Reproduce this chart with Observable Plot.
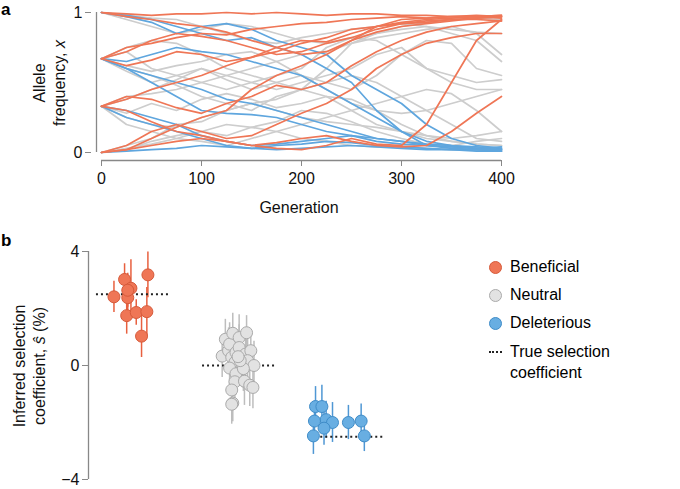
<!DOCTYPE html>
<html><head><meta charset="utf-8">
<script src="https://cdn.jsdelivr.net/npm/d3@7"></script>
<script src="https://cdn.jsdelivr.net/npm/@observablehq/plot@0.6"></script>
<style>
body{margin:0;font-family:"Liberation Sans",Arial,sans-serif;}
#wrap{position:relative;width:680px;height:489px;}
.abs{position:absolute;}
.lab{font-size:16px;color:#111;white-space:nowrap;}
.rot{transform:translate(-50%,-50%) rotate(-90deg);text-align:center;line-height:20px;}
.leg{display:flex;align-items:center;gap:8px;font-size:16px;}
.dot{width:11px;height:11px;border-radius:50%;}
</style></head><body>
<div id="wrap">
  <div id="a" class="abs" style="left:0;top:0"></div>
  <div id="b" class="abs" style="left:0;top:225px"></div>
  <div class="abs" style="left:1px;top:1px;font-weight:bold;font-size:17px;line-height:18px">a</div>
  <div class="abs" style="left:1px;top:232px;font-weight:bold;font-size:17px;line-height:18px">b</div>
  <div class="abs lab rot" style="left:50px;top:83px">Allele<br>frequency, <i>x</i></div>
  <div class="abs lab rot" style="left:30px;top:366px">Inferred selection<br>coefficient, <i>ŝ</i> (%)</div>
  <div class="abs" style="left:489px;top:253px;line-height:28px">
    <div class="leg"><span class="dot" style="background:#ef7656;border:1px solid #d65a3a"></span>Beneficial</div>
    <div class="leg"><span class="dot" style="background:#e2e2e2;border:1px solid #aaa"></span>Neutral</div>
    <div class="leg"><span class="dot" style="background:#68aee2;border:1px solid #3f8cc8"></span>Deleterious</div>
    <div class="leg" style="align-items:flex-start;line-height:21px;margin-top:4px"><span style="width:13px;border-top:2px dotted #222;margin-top:10px"></span>True selection<br>coefficient</div>
  </div>
</div>
<script>
const gens = [0,25,50,75,100,125,150,175,200,225,250,275,300,325,350,375,400];
const redLines = [
  [1,.99,.98,.99,.99,1,.99,1,.99,.98,.99,.99,.98,.98,.97,.98,.97],
  [.67,.75,.78,.82,.85,.84,.88,.9,.92,.93,.95,.96,.97,.96,.97,.97,.98],
  [.67,.62,.66,.72,.7,.65,.68,.75,.8,.79,.85,.9,.93,.95,.96,.97,.96],
  [.33,.38,.45,.5,.55,.62,.68,.72,.78,.82,.88,.9,.92,.93,.95,.95,.94],
  [.33,.4,.38,.32,.28,.35,.4,.48,.45,.5,.62,.72,.8,.86,.9,.92,.94],
  [0,.02,.1,.18,.25,.3,.45,.55,.62,.7,.8,.9,.95,.96,.97,.97,.98],
  [0,.05,.15,.2,.15,.1,.12,.2,.28,.35,.45,.6,.7,.78,.82,.85,.85],
  [.33,.3,.22,.15,.12,.08,.05,.07,.1,.12,.08,.05,.04,.05,.15,.28,.4],
  [0,.02,.05,.08,.1,.08,.05,.03,.02,.05,.1,.06,.05,.2,.5,.8,.95],
  [.67,.72,.8,.85,.83,.8,.75,.7,.72,.78,.82,.88,.92,.94,.95,.96,.97],
  [1,.97,.95,.92,.9,.86,.8,.75,.7,.72,.8,.86,.9,.92,.94,.96,.97]
];
const greyLines = [
  [.67,.72,.6,.55,.5,.45,.5,.55,.6,.75,.82,.8,.7,.6,.55,.5,.52],
  [.67,.6,.55,.48,.4,.35,.3,.4,.45,.6,.78,.85,.88,.9,.85,.8,.65],
  [.33,.38,.45,.52,.6,.55,.5,.45,.5,.55,.6,.7,.75,.6,.5,.45,.45],
  [.33,.25,.2,.18,.25,.3,.35,.3,.25,.22,.2,.18,.15,.12,.1,.12,.15],
  [0,.05,.1,.2,.22,.3,.35,.38,.45,.5,.55,.5,.4,.3,.2,.1,.08],
  [.33,.2,.15,.1,.08,.05,.1,.15,.2,.25,.3,.35,.4,.45,.42,.3,.15],
  [1,.95,.9,.85,.88,.92,.9,.85,.8,.78,.82,.85,.9,.93,.95,.96,.95],
  [.67,.75,.8,.78,.7,.6,.55,.5,.45,.4,.3,.2,.15,.1,.08,.06,.05],
  [0,.02,.08,.12,.15,.2,.18,.15,.1,.08,.05,.04,.05,.03,.02,.02,.01],
  [.33,.4,.42,.45,.5,.55,.6,.65,.7,.72,.78,.82,.85,.88,.9,.85,.7],
  [.67,.62,.58,.62,.65,.7,.72,.65,.55,.45,.35,.3,.28,.3,.35,.4,.45],
  [1,.98,.96,.95,.9,.85,.8,.78,.82,.85,.88,.9,.92,.9,.88,.86,.85],
  [0,.03,.06,.1,.15,.12,.18,.22,.3,.28,.22,.15,.1,.06,.05,.08,.1],
  [.67,.58,.5,.55,.6,.52,.45,.5,.55,.5,.45,.55,.7,.8,.78,.6,.55],
  [.33,.28,.35,.3,.38,.42,.38,.32,.35,.4,.38,.3,.2,.12,.08,.06,.05]
];
const blueLines = [
  [1,.98,.95,.9,.85,.8,.82,.75,.7,.6,.5,.3,.15,.08,.05,.04,.03],
  [1,.97,.93,.85,.9,.92,.88,.8,.75,.7,.55,.45,.35,.2,.1,.05,.03],
  [.67,.6,.55,.5,.45,.38,.35,.3,.25,.2,.15,.1,.08,.06,.05,.03,.02],
  [.67,.6,.5,.4,.3,.28,.27,.25,.2,.15,.12,.08,.06,.05,.04,.03,.02],
  [.33,.25,.2,.15,.1,.05,.03,.02,.03,.04,.05,.04,.03,.02,.02,.01,.01],
  [0,.01,.02,.03,.05,.04,.03,.05,.06,.08,.07,.05,.04,.03,.02,.02,.01],
  [.33,.3,.25,.2,.12,.08,.05,.06,.08,.1,.12,.1,.08,.05,.04,.03,.04],
  [.67,.65,.7,.75,.72,.7,.65,.6,.55,.45,.35,.25,.15,.05,.03,.02,.02]
];
const COL = {red:"#ef7656", grey:"#cdcdcd", blue:"#5fa6de"};
const toRows = (lines, type) => lines.flatMap((l, i) => l.map((v, j) => ({gen: gens[j], x: v, id: type + i, type})));
const traj = [...toRows(greyLines, "grey"), ...toRows(blueLines, "blue"), ...toRows(redLines, "red")];

const a = Plot.plot({
  width: 680, height: 225,
  marginLeft: 96, marginRight: 179, marginTop: 12, marginBottom: 65,
  insetLeft: 5, insetBottom: 8,
  style: {fontFamily: "Liberation Sans, Arial, sans-serif", fontSize: "16px", color: "#111"},
  x: {domain: [0, 400]}, y: {domain: [0, 1]},
  marks: [
    Plot.line(traj, {x: "gen", y: "x", z: "id", stroke: d => COL[d.type], strokeWidth: 1.7}),
    Plot.ruleX([0], {y1: 0, y2: 1, dx: -5, stroke: "#888", strokeWidth: 1.3}),
    Plot.ruleY([0], {x1: 0, x2: 400, dy: 8, stroke: "#888", strokeWidth: 1.3}),
    Plot.axisY({ticks: [0, 1], tickFormat: d3.format("d"), tickSize: 6, dx: -5, stroke: "#888", label: null}),
    Plot.axisX({ticks: [0, 100, 200, 300, 400], tickSize: 6, stroke: "#888", tickPadding: 6, label: "Generation", labelAnchor: "center", labelOffset: 52, labelArrow: "none"})
  ]
});
document.getElementById("a").append(a);

// panel b: pos = category centre (0,1,2) + jitter
const centres = [0, 1, 2.02];
const benS = [2.41,3.02,2.71,2.38,1.75,1.86,3.18,1.89,1.03,2.64];
const benJ = [-.18,-.08,-.02,-.05,-.06,.03,.14,.13,.08,-.05];
const benE = [.55,.55,1.0,.6,.65,.45,.8,.85,.75,.6];
const neuS = [.33,.92,.52,.75,1.13,.98,1.15,.29,.46,.63,.4,.52,.11,-.09,-.03,.17,0,-.29,-.11,-.57,-.55,-.69,-.77,-.86,-1.32,-1.36,.17,.31];
const neuJ = [-.16,-.13,-.1,-.09,-.06,0,.07,-.07,-.03,0,.06,.11,-.04,-.09,.03,.08,.14,-.03,.04,-.04,.05,.1,.13,-.07,-.06,-.07,.01,-.01];
const neuE = [.75,.7,.8,.75,.7,.8,.6,.8,.75,.8,.85,.7,.9,.8,.75,.8,.85,.75,.8,.8,.85,.75,.75,.8,.65,.7,.8,.75];
const delS = [-1.44,-1.44,-1.9,-1.95,-2.0,-2.2,-2.47,-2.0,-1.95,-2.47];
const delJ = [-.3,-.24,-.2,-.31,-.14,-.22,-.32,.01,.13,.16];
const delE = [.7,.75,.65,.7,.7,.6,.65,.6,.6,.55];
const trueS = [2.5, 0, -2.5];
const pts = [
  ...benS.map((s, i) => ({pos: centres[0] + benJ[i], s, e: benE[i], type: "red"})),
  ...neuS.map((s, i) => ({pos: centres[1] + neuJ[i], s, e: neuE[i], type: "grey"})),
  ...delS.map((s, i) => ({pos: centres[2] + delJ[i], s, e: delE[i], type: "blue"}))
];
const FILL = {red: "#ef7656", grey: "#e2e2e2", blue: "#68aee2"};
const EDGE = {red: "#d65a3a", grey: "#aaaaaa", blue: "#3f8cc8"};
const BAR = {red: "#e8603f", grey: "#bdbdbd", blue: "#4f97d4"};

const b = Plot.plot({
  width: 680, height: 264,
  marginLeft: 88, marginRight: 17, marginTop: 26, marginBottom: 10,
  style: {fontFamily: "Liberation Sans, Arial, sans-serif", fontSize: "16px", color: "#111"},
  x: {domain: [-0.42, 5.0], axis: null},
  y: {domain: [-4, 4]},
  marks: [
    Plot.ruleX(pts, {x: "pos", y1: d => d.s - d.e, y2: d => d.s + d.e, stroke: d => BAR[d.type], strokeWidth: 1.5}),
    Plot.ruleY(trueS, {y: d => d, x1: (d, i) => centres[i] - 0.345, x2: (d, i) => centres[i] + 0.345, stroke: "#222", strokeWidth: 2, strokeDasharray: "2,3"}),
    Plot.dot(pts, {x: "pos", y: "s", r: 6, fill: d => FILL[d.type], stroke: d => EDGE[d.type], strokeWidth: 1}),
    Plot.ruleX([-0.42], {y1: -4, y2: 4, stroke: "#888", strokeWidth: 1.3}),
    Plot.axisY({ticks: [-4, 0, 4], tickFormat: d => d < 0 ? "\u2212" + (-d) : d, tickSize: 6, stroke: "#888", label: null})
  ]
});
document.getElementById("b").append(b);
</script>
</body></html>
